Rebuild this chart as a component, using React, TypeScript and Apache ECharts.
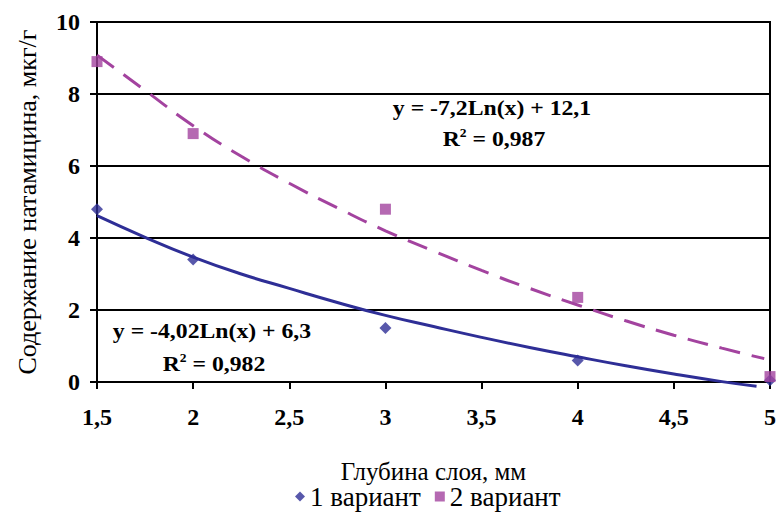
import React, { useEffect, useRef } from "react";
import * as echarts from "echarts";

const depthX = [1.5, 2, 3, 4, 5];
const variant1 = [4.8, 3.4, 1.5, 0.6, 0.05];
const variant2 = [8.9, 6.9, 4.8, 2.35, 0.15];

const trend1X = [1.5, 1.75, 2, 2.25, 2.5, 2.75, 3, 3.25, 3.5, 3.75, 4, 4.25, 4.5, 4.75, 4.93];
const trend1Y = [4.62, 4.02, 3.47, 3.0, 2.6, 2.21, 1.85, 1.54, 1.24, 0.96, 0.7, 0.45, 0.22, 0.01, -0.12];
const trend2X = [1.5, 1.75, 2, 2.25, 2.5, 2.75, 3, 3.25, 3.5, 3.75, 4, 4.25, 4.5, 4.75, 4.97];
const trend2Y = [9.08, 8.1, 7.12, 6.27, 5.52, 4.84, 4.2, 3.64, 3.1, 2.6, 2.14, 1.7, 1.3, 0.94, 0.65];

const xTicks = ["1,5", "2", "2,5", "3", "3,5", "4", "4,5", "5"];
const seriesNames = ["1 вариант", "2 вариант"];

const BLUE = "#2E2E96";
const PURPLE = "#A3439F";
const FONT = "Liberation Serif";

export default function App() {
  const ref = useRef<HTMLDivElement>(null);
  useEffect(() => {
    if (!ref.current) return;
    const chart = echarts.init(ref.current, null, { renderer: "svg" });
    const zip = (xs: number[], ys: number[]) => xs.map((x, i) => [x, ys[i]]);
    const rich = {
      b: { fontFamily: FONT, fontSize: 21, fontWeight: "bold", color: "#000", lineHeight: 24 },
      s: { fontFamily: FONT, fontSize: 12, fontWeight: "bold", color: "#000", lineHeight: 24, verticalAlign: "top" },
    };
    const eqStyle = {
      fontFamily: FONT,
      fontSize: 21,
      fontWeight: "bold",
      fill: "#000",
    };
    const sx = 1.13;
    chart.setOption({
      animation: false,
      backgroundColor: "#fff",
      textStyle: { fontFamily: FONT },
      grid: {
        left: 97,
        right: 8,
        top: 22,
        bottom: 133,
        show: true,
        borderColor: "#000",
        borderWidth: 2,
      },
      xAxis: {
        type: "value",
        min: 1.5,
        max: 5,
        interval: 0.5,
        name: "Глубина слоя, мм",
        nameLocation: "middle",
        nameGap: 77,
        nameTextStyle: { fontFamily: FONT, fontSize: 25, color: "#000" },
        axisLine: { lineStyle: { color: "#000", width: 2 } },
        axisTick: { show: true, length: 7, lineStyle: { color: "#000", width: 2 } },
        splitLine: { show: false },
        axisLabel: {
          margin: 23,
          fontFamily: FONT,
          fontSize: 24,
          fontWeight: "bold",
          color: "#000",
          formatter: (v: number) => xTicks[Math.round((v - 1.5) / 0.5)] ?? "",
        },
      },
      yAxis: {
        type: "value",
        min: 0,
        max: 10,
        interval: 2,
        name: "Содержание натамицина, мкг/г",
        nameLocation: "middle",
        nameGap: 57,
        nameTextStyle: { fontFamily: FONT, fontSize: 26, color: "#000" },
        axisLine: { show: true, lineStyle: { color: "#000", width: 2 } },
        axisTick: { show: true, length: 7, lineStyle: { color: "#000", width: 2 } },
        splitLine: { show: true, lineStyle: { color: "#000", width: 2 } },
        axisLabel: {
          margin: 17,
          fontFamily: FONT,
          fontSize: 24,
          fontWeight: "bold",
          color: "#000",
        },
      },
      legend: {
        bottom: 0,
        left: 290,
        itemGap: 14,
        itemWidth: 10,
        itemHeight: 10,
        textStyle: { fontFamily: FONT, fontSize: 27, color: "#000" },
        data: [
          { name: seriesNames[0], icon: "diamond" },
          { name: seriesNames[1], icon: "rect" },
        ],
      },
      series: [
        {
          name: "trend1",
          type: "line",
          data: zip(trend1X, trend1Y),
          smooth: true,
          showSymbol: false,
          clip: false,
          lineStyle: { color: BLUE, width: 3 },
          z: 3,
        },
        {
          name: "trend2",
          type: "line",
          data: zip(trend2X, trend2Y),
          smooth: true,
          showSymbol: false,
          clip: false,
          lineStyle: { color: PURPLE, width: 3, type: [21, 12] },
          z: 3,
        },
        {
          name: seriesNames[0],
          type: "scatter",
          data: zip(depthX, variant1),
          symbol: "diamond",
          symbolSize: 12,
          clip: false,
          itemStyle: { color: BLUE },
          z: 4,
        },
        {
          name: seriesNames[1],
          type: "scatter",
          data: zip(depthX, variant2),
          symbol: "rect",
          symbolSize: 11,
          clip: false,
          itemStyle: { color: PURPLE },
          z: 4,
        },
      ],
      graphic: [
        {
          type: "text",
          x: 492,
          y: 108,
          scaleX: sx,
          style: { ...eqStyle, text: "y = -7,2Ln(x) + 12,1", align: "center", verticalAlign: "middle" },
        },
        {
          type: "text",
          x: 494,
          y: 139,
          scaleX: sx,
          style: {
            ...eqStyle,
            text: "{b|R}{s|2}{b| = 0,987}",
            align: "center",
            verticalAlign: "middle",
            rich,
          },
        },
        {
          type: "text",
          x: 212,
          y: 331,
          scaleX: sx,
          style: { ...eqStyle, text: "y = -4,02Ln(x) + 6,3", align: "center", verticalAlign: "middle" },
        },
        {
          type: "text",
          x: 214,
          y: 364,
          scaleX: sx,
          style: {
            ...eqStyle,
            text: "{b|R}{s|2}{b| = 0,982}",
            align: "center",
            verticalAlign: "middle",
            rich,
          },
        },
      ],
    });
    return () => chart.dispose();
  }, []);
  return <div ref={ref} style={{ width: 779, height: 515, position: "absolute", left: 0, top: 0 }} />;
}
